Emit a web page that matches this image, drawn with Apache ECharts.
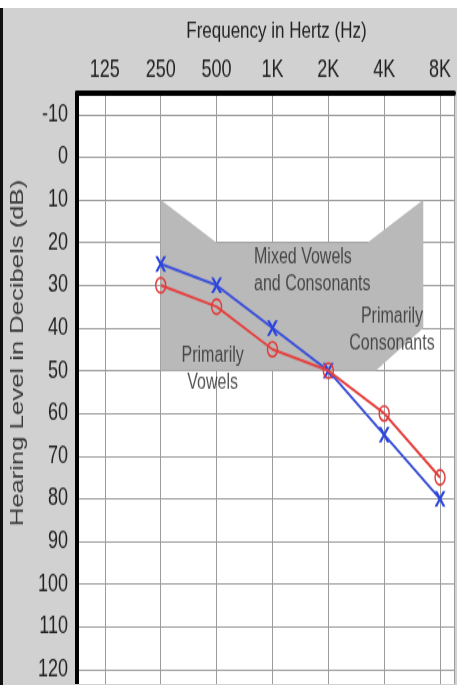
<!DOCTYPE html>
<html><head><meta charset="utf-8">
<script src="https://cdn.jsdelivr.net/npm/echarts@6/dist/echarts.min.js"></script>
<style>
html,body{margin:0;padding:0;background:#fff;overflow:hidden;width:457px;height:685px;}
#bg{position:absolute;left:3px;top:8px;right:0;bottom:0;background:#d2d1d1;}
#edge{position:absolute;left:0;top:8px;width:3px;bottom:0;background:#111;}
#chart{position:absolute;left:0;top:0;width:457px;height:507.4px;transform:scaleY(1.35);transform-origin:0 0;}
</style></head><body>
<div id="bg"></div><div id="edge"></div><div id="chart"></div>
<script>
// Categories (frequency positions 0..6)
const freqLabels = ['125', '250', '500', '1K', '2K', '4K', '8K'];
const freqIndex = [1, 2, 3, 4, 5, 6];
// Hearing levels in dB
const redO = [30, 35, 45, 50, 60, 75];
const blueX = [25, 30, 40, 50, 65, 80];
// Speech region polygon (freq index, dB)
const bananaX = [1, 2, 4.7, 5.7, 5.7, 4.85, 1];
const bananaY = [10, 20, 20, 10, 40, 50, 50];
// Region labels
const regionText = ['Mixed Vowels\nand Consonants', 'Primarily\nConsonants', 'Primarily\nVowels'];
const regionX = [2.67, 5.14, 1.93];
const regionY = [26.6, 40.6, 49.6];

const FONT = 'Liberation Sans, Arial, sans-serif';
const chart = echarts.init(document.getElementById('chart'), null, {renderer: 'canvas'});
const xSymbol = 'path://M0,0 L2.4,0 L5,4.6 L7.6,0 L10,0 L6.2,6.8 L10,13.6 L7.6,13.6 L5,9 L2.4,13.6 L0,13.6 L3.8,6.8 Z';

chart.setOption({
  animation: false,
  backgroundColor: 'transparent',
  grid: {left: 75, right: 0, top: 69, bottom: 0, show: true, backgroundColor: '#fff', borderWidth: 0},
  xAxis: {
    type: 'value', position: 'top', min: -0.5, max: 6.25, splitNumber: 7,
    name: 'Frequency in Hertz (Hz)', nameLocation: 'middle', nameGap: 37,
    nameTextStyle: {fontFamily: FONT, fontSize: 17, color: '#222', padding: [0, 0, 0, 22]},
    axisLine: {show: true, onZero: false, lineStyle: {color: '#000', width: 4}},
    axisTick: {show: false},
    axisLabel: {fontFamily: FONT, fontSize: 18, color: '#222', margin: 8,
      formatter: v => (Number.isInteger(v) && v >= 0 && v < freqLabels.length) ? freqLabels[v] : ''},
    splitLine: {show: true, lineStyle: {color: '#9c9c9c', width: 1}}
  },
  yAxis: {
    type: 'value', inverse: true, min: -15, max: 123.5, splitNumber: 14,
    name: 'Hearing Level in Decibels (dB)', nameLocation: 'middle', nameGap: 40,
    nameTextStyle: {fontFamily: FONT, fontSize: 19, color: '#3a3a3a', padding: [0, 0, 0, 53]},
    axisLine: {show: true, onZero: false, lineStyle: {color: '#000', width: 4}},
    axisTick: {show: false},
    axisLabel: {fontFamily: FONT, fontSize: 18, color: '#222', margin: 9,
      formatter: v => (v % 10 === 0) ? String(v) : ''},
    splitLine: {show: true, lineStyle: {color: '#9c9c9c', width: 1}}
  },
  series: [
    {
      type: 'custom', silent: true, z: 1,
      data: bananaX.map((x, i) => [x, bananaY[i]]),
      renderItem: (params, api) => {
        if (params.dataIndex !== 0) return null;
        const pts = bananaX.map((x, i) => api.coord([x, bananaY[i]]));
        return {type: 'polygon', shape: {points: pts}, style: {fill: '#b9b9b9'}};
      }
    },
    {
      type: 'scatter', silent: true, z: 3, symbolSize: 0,
      data: regionX.map((x, i) => ({value: [x, regionY[i]],
        label: {show: true, position: 'inside', formatter: regionText[i], align: i === 0 ? 'left' : 'center'}})),
      label: {fontFamily: FONT, fontSize: 16, lineHeight: 20, color: '#2a2a2a'}
    },
    {
      type: 'line', z: 4, data: freqIndex.map((x, i) => [x, blueX[i]]),
      lineStyle: {color: '#3d52d8', width: 2},
      symbol: xSymbol, symbolSize: [11, 11.5], symbolKeepAspect: false,
      itemStyle: {color: '#2b45e0'}
    },
    {
      type: 'line', z: 5, data: freqIndex.map((x, i) => [x, redO[i]]),
      lineStyle: {color: '#e5413f', width: 2},
      symbol: 'circle', symbolSize: [10, 11],
      itemStyle: {color: 'rgba(0,0,0,0)', borderColor: '#e23b38', borderWidth: 1.5}
    }
  ]
});
</script>
</body></html>
